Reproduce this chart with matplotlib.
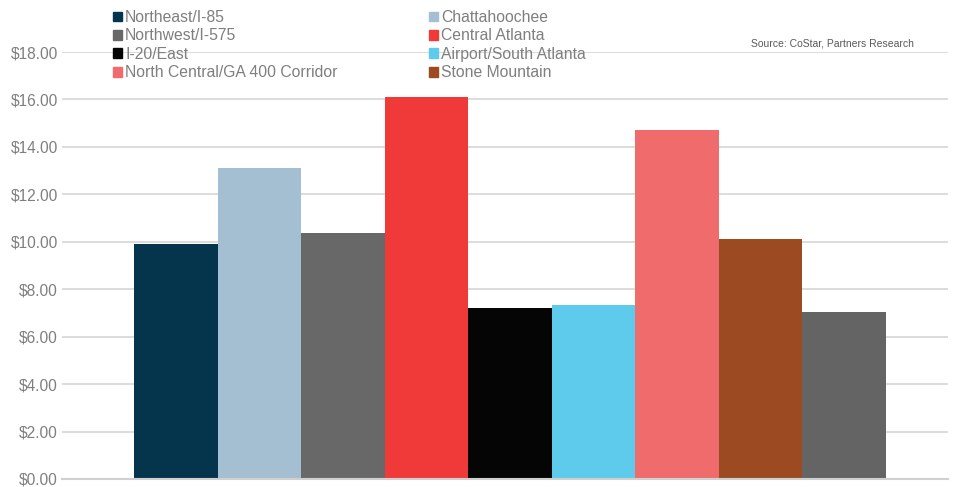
import matplotlib.pyplot as plt
from matplotlib.patches import Patch
from matplotlib.ticker import FuncFormatter

submarkets = ["Northeast/I-85", "Chattahoochee", "Northwest/I-575", "Central Atlanta",
              "I-20/East", "Airport/South Atlanta", "North Central/GA 400 Corridor",
              "Stone Mountain", ""]
rents = [9.90, 13.13, 10.37, 16.11, 7.22, 7.34, 14.73, 10.11, 7.05]
colors = ["#05354d", "#a4bfd1", "#686868", "#ef3a39", "#050505",
          "#5ecbec", "#f06b6c", "#9b4a22", "#636463"]

plt.rcParams["font.family"] = ["Liberation Sans", "DejaVu Sans"]

fig = plt.figure(figsize=(9.61, 4.87), dpi=100)
ax = fig.add_axes([62 / 961, 8 / 487, 886 / 961, 427 / 487])

# bars span px 134..886 inside an axes running 62..948
bw = 752 / 9
x = list(range(len(rents)))
ax.bar(x, rents, width=1.0, color=colors, zorder=3)
ax.set_xlim(-0.5 - 72 / bw, len(rents) - 0.5 + 62 / bw)
ax.set_ylim(0, 18)
ax.set_yticks([i * 2 for i in range(10)])
ax.yaxis.set_major_formatter(FuncFormatter(lambda v, p: f"${v:.2f}"))
ax.tick_params(axis="y", length=0, labelsize=11.2, labelcolor="#7f7f7f", pad=3)
ax.tick_params(axis="x", length=0, labelbottom=False)
ax.grid(axis="y", color="#d9d9d9", linewidth=1.3, zorder=0)
for s in ["top", "right", "left"]:
    ax.spines[s].set_visible(False)
ax.spines["bottom"].set_color("#d0d0d0")
ax.spines["bottom"].set_linewidth(1.5)
ax.spines["bottom"].set_zorder(4)

handles = [Patch(color=c, label=l) for c, l in zip(colors[:8], submarkets[:8])]
order = [0, 2, 4, 6, 1, 3, 5, 7]
fig.legend([handles[i] for i in order], [submarkets[i] for i in order],
           ncol=2, loc="upper left", bbox_to_anchor=(113 / 961, 1 - 10 / 487),
           frameon=False, fontsize=11.3, labelcolor="#7f7f7f",
           handlelength=0.58, handleheight=0.58, handletextpad=0.2,
           columnspacing=5.83, labelspacing=0.22, borderpad=0, borderaxespad=0)

fig.text(914 / 961, 1 - 44 / 487, "Source: CoStar, Partners Research",
         ha="right", va="center", fontsize=7.5, color="#595959")

fig.savefig("out.png", dpi=100)
